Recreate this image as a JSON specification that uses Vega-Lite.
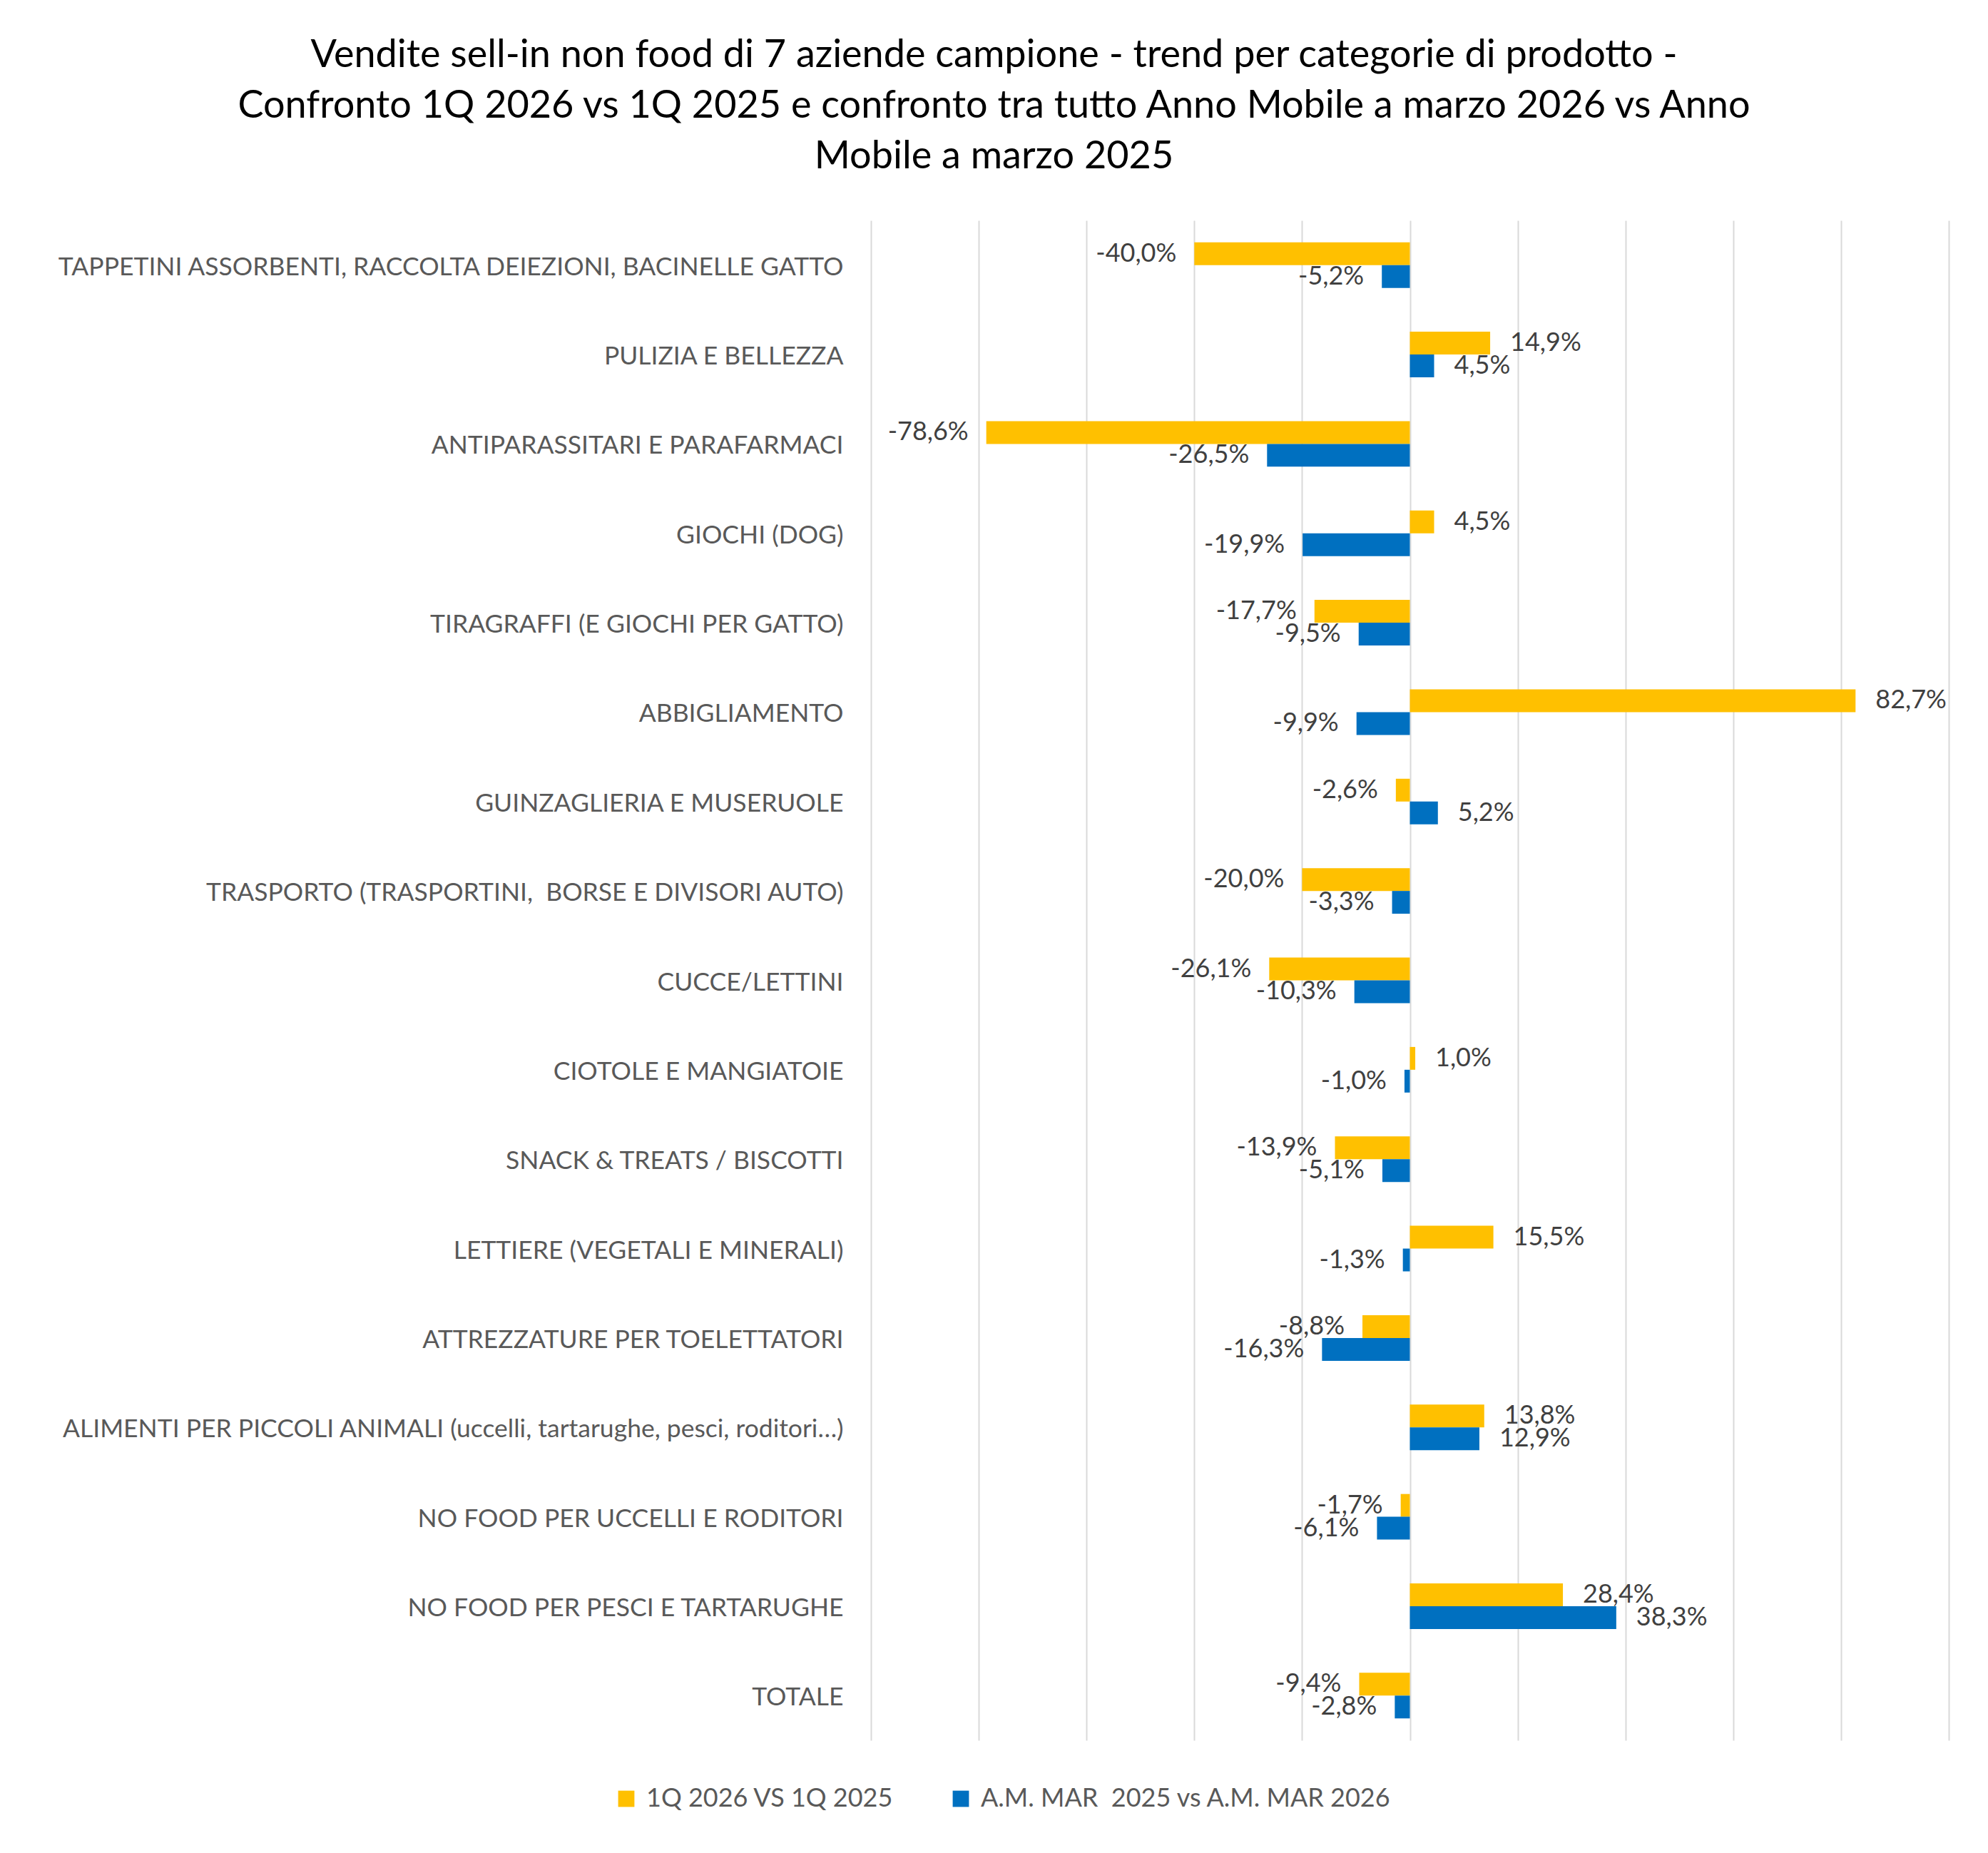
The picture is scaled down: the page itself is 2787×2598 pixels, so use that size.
{
  "$schema": "https://vega.github.io/schema/vega-lite/v6.json",
  "width": 1511,
  "height": 2131,
  "autosize": {"type": "none"},
  "padding": {"left": 1221, "top": 309, "right": 55, "bottom": 158},
  "background": "white",
  "config": {
    "locale": {"number": {"decimal": ",", "thousands": ".", "grouping": [3], "currency": ["€", ""], "minus": "-"}},
    "view": {"stroke": null},
    "font": "Lato"
  },
  "title": {
    "text": ["Vendite sell-in non food di 7 aziende campione - trend per categorie di prodotto -", "Confronto 1Q 2026 vs 1Q 2025 e confronto tra tutto Anno Mobile a marzo 2026 vs Anno", "Mobile a marzo 2025"],
    "anchor": "middle",
    "frame": "group",
    "dx": -583,
    "offset": 62,
    "fontSize": 54,
    "lineHeight": 71,
    "fontWeight": "normal",
    "font": "Lato",
    "color": "#000000"
  },
  "data": {
    "values": [
      {"cat": "TAPPETINI ASSORBENTI, RACCOLTA DEIEZIONI, BACINELLE GATTO", "series": "1Q 2026 VS 1Q 2025", "v": -0.400},
      {"cat": "TAPPETINI ASSORBENTI, RACCOLTA DEIEZIONI, BACINELLE GATTO", "series": "A.M. MAR  2025 vs A.M. MAR 2026", "v": -0.052},
      {"cat": "PULIZIA E BELLEZZA", "series": "1Q 2026 VS 1Q 2025", "v": 0.149},
      {"cat": "PULIZIA E BELLEZZA", "series": "A.M. MAR  2025 vs A.M. MAR 2026", "v": 0.045},
      {"cat": "ANTIPARASSITARI E PARAFARMACI", "series": "1Q 2026 VS 1Q 2025", "v": -0.786},
      {"cat": "ANTIPARASSITARI E PARAFARMACI", "series": "A.M. MAR  2025 vs A.M. MAR 2026", "v": -0.265},
      {"cat": "GIOCHI (DOG)", "series": "1Q 2026 VS 1Q 2025", "v": 0.045},
      {"cat": "GIOCHI (DOG)", "series": "A.M. MAR  2025 vs A.M. MAR 2026", "v": -0.199},
      {"cat": "TIRAGRAFFI (E GIOCHI PER GATTO)", "series": "1Q 2026 VS 1Q 2025", "v": -0.177},
      {"cat": "TIRAGRAFFI (E GIOCHI PER GATTO)", "series": "A.M. MAR  2025 vs A.M. MAR 2026", "v": -0.095},
      {"cat": "ABBIGLIAMENTO", "series": "1Q 2026 VS 1Q 2025", "v": 0.827},
      {"cat": "ABBIGLIAMENTO", "series": "A.M. MAR  2025 vs A.M. MAR 2026", "v": -0.099},
      {"cat": "GUINZAGLIERIA E MUSERUOLE", "series": "1Q 2026 VS 1Q 2025", "v": -0.026},
      {"cat": "GUINZAGLIERIA E MUSERUOLE", "series": "A.M. MAR  2025 vs A.M. MAR 2026", "v": 0.052},
      {"cat": "TRASPORTO (TRASPORTINI, \u00a0BORSE E DIVISORI AUTO)", "series": "1Q 2026 VS 1Q 2025", "v": -0.200},
      {"cat": "TRASPORTO (TRASPORTINI, \u00a0BORSE E DIVISORI AUTO)", "series": "A.M. MAR  2025 vs A.M. MAR 2026", "v": -0.033},
      {"cat": "CUCCE/LETTINI", "series": "1Q 2026 VS 1Q 2025", "v": -0.261},
      {"cat": "CUCCE/LETTINI", "series": "A.M. MAR  2025 vs A.M. MAR 2026", "v": -0.103},
      {"cat": "CIOTOLE E MANGIATOIE", "series": "1Q 2026 VS 1Q 2025", "v": 0.010},
      {"cat": "CIOTOLE E MANGIATOIE", "series": "A.M. MAR  2025 vs A.M. MAR 2026", "v": -0.010},
      {"cat": "SNACK & TREATS / BISCOTTI", "series": "1Q 2026 VS 1Q 2025", "v": -0.139},
      {"cat": "SNACK & TREATS / BISCOTTI", "series": "A.M. MAR  2025 vs A.M. MAR 2026", "v": -0.051},
      {"cat": "LETTIERE (VEGETALI E MINERALI)", "series": "1Q 2026 VS 1Q 2025", "v": 0.155},
      {"cat": "LETTIERE (VEGETALI E MINERALI)", "series": "A.M. MAR  2025 vs A.M. MAR 2026", "v": -0.013},
      {"cat": "ATTREZZATURE PER TOELETTATORI", "series": "1Q 2026 VS 1Q 2025", "v": -0.088},
      {"cat": "ATTREZZATURE PER TOELETTATORI", "series": "A.M. MAR  2025 vs A.M. MAR 2026", "v": -0.163},
      {"cat": "ALIMENTI PER PICCOLI ANIMALI (uccelli, tartarughe, pesci, roditori…)", "series": "1Q 2026 VS 1Q 2025", "v": 0.138},
      {"cat": "ALIMENTI PER PICCOLI ANIMALI (uccelli, tartarughe, pesci, roditori…)", "series": "A.M. MAR  2025 vs A.M. MAR 2026", "v": 0.129},
      {"cat": "NO FOOD PER UCCELLI E RODITORI", "series": "1Q 2026 VS 1Q 2025", "v": -0.017},
      {"cat": "NO FOOD PER UCCELLI E RODITORI", "series": "A.M. MAR  2025 vs A.M. MAR 2026", "v": -0.061},
      {"cat": "NO FOOD PER PESCI E TARTARUGHE", "series": "1Q 2026 VS 1Q 2025", "v": 0.284},
      {"cat": "NO FOOD PER PESCI E TARTARUGHE", "series": "A.M. MAR  2025 vs A.M. MAR 2026", "v": 0.383},
      {"cat": "TOTALE", "series": "1Q 2026 VS 1Q 2025", "v": -0.094},
      {"cat": "TOTALE", "series": "A.M. MAR  2025 vs A.M. MAR 2026", "v": -0.028}
    ]
  },
  "encoding": {
    "y": {
      "field": "cat",
      "type": "nominal",
      "sort": null,
      "scale": {"paddingInner": 0.49, "paddingOuter": 0.245},
      "axis": {
        "title": null,
        "ticks": false,
        "domain": false,
        "labelPadding": 39,
        "labelLimit": 2000,
        "labelFontSize": 35.5,
        "labelColor": "#595959",
        "labelFont": "Lato",
        "labelOffset": 3
      }
    },
    "yOffset": {
      "field": "series",
      "type": "nominal",
      "sort": ["1Q 2026 VS 1Q 2025", "A.M. MAR  2025 vs A.M. MAR 2026"],
      "scale": {"paddingInner": 0, "paddingOuter": 0}
    },
    "x": {
      "field": "v",
      "type": "quantitative",
      "scale": {"domain": [-1, 1], "nice": false, "zero": false},
      "axis": {
        "title": null,
        "labels": false,
        "ticks": false,
        "domain": false,
        "grid": true,
        "gridColor": "#D9D9D9",
        "gridWidth": 2,
        "values": [-1, -0.8, -0.6, -0.4, -0.2, 0, 0.2, 0.4, 0.6, 0.8, 1]
      }
    }
  },
  "layer": [
    {
      "mark": {"type": "bar"},
      "encoding": {
        "color": {
          "field": "series",
          "type": "nominal",
          "scale": {"domain": ["1Q 2026 VS 1Q 2025", "A.M. MAR  2025 vs A.M. MAR 2026"], "range": ["#FFC000", "#0070C0"]},
          "legend": {
            "title": null,
            "orient": "none",
            "direction": "horizontal",
            "legendX": -361,
            "legendY": 2195,
            "symbolType": "square",
            "symbolSize": 520,
            "symbolStrokeWidth": 0,
            "labelFontSize": 36,
            "labelColor": "#595959",
            "labelFont": "Lato",
            "labelLimit": 2000,
            "labelOffset": 10,
            "columnPadding": 76,
            "labelExpr": "replace(datum.label, 'MAR  2025', 'MAR \u00a02025')"
          }
        }
      }
    },
    {
      "mark": {
        "type": "text",
        "fontSize": 36,
        "font": "Lato",
        "color": "#404040",
        "baseline": "middle",
        "align": {"expr": "datum.v < 0 ? 'right' : 'left'"},
        "dx": {"expr": "datum.v < 0 ? -25 : 28"}
      },
      "encoding": {
        "text": {"field": "v", "type": "quantitative", "format": ".1%"}
      }
    }
  ]
}
